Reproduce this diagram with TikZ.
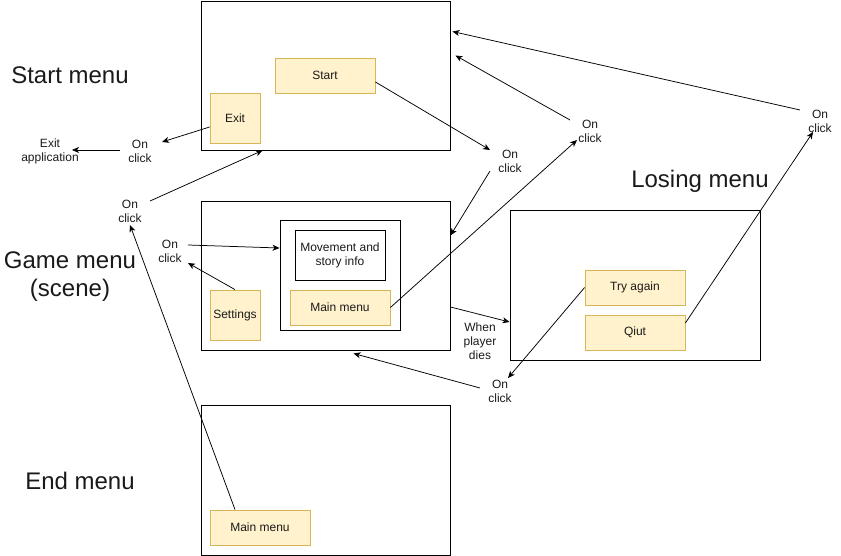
\documentclass[tikz,border=0pt]{standalone}
\usepackage{fontspec}
\setmainfont{Liberation Sans}
\usetikzlibrary{arrows.meta,calc}
\definecolor{btnfill}{HTML}{FFF2CC}
\definecolor{btnline}{HTML}{D6B656}
\definecolor{txt}{HTML}{1A1A1A}
\begin{document}
\begin{tikzpicture}[x=1pt,y=-1pt,
  screen/.style={draw, line width=0.9pt, fill=white, inner sep=0pt},
  btn/.style={draw=btnline, fill=btnfill, line width=0.8pt, inner sep=0pt, text=txt,
    font=\fontsize{12}{14}\selectfont, align=center},
  lbl/.style={font=\fontsize{12}{14}\selectfont, align=center, inner sep=1pt, text=txt},
  ttl/.style={font=\fontsize{24}{28}\selectfont, align=center, inner sep=0pt, text=txt},
  arr/.style={-{Stealth[length=7pt,width=6pt,inset=2pt]}, line width=0.75pt}]
\useasboundingbox (0,0) rectangle (841,556);

% screens
\node[screen, minimum width=249pt, minimum height=149pt] (ss) at (325.5,75.5) {};
\node[screen, minimum width=249pt, minimum height=149pt] (gs) at (325.5,275.5) {};
\node[screen, minimum width=250pt, minimum height=150pt] (ls) at (635,285) {};
\node[screen, minimum width=249pt, minimum height=150pt] (es) at (325.5,480) {};

% inner boxes
\node[screen, minimum width=120pt, minimum height=110pt] (inner) at (340,275) {};
\node[screen, minimum width=90pt, minimum height=50pt, font=\fontsize{12}{14}\selectfont, align=center, text=txt] (mov) at (340,255) {Movement and\\story info};

% buttons
\node[btn, minimum width=100pt, minimum height=35pt] (startb) at (325,75.5) {Start};
\node[btn, minimum width=50pt, minimum height=50pt] (exitb) at (235,118) {Exit};
\node[btn, minimum width=100pt, minimum height=35pt] (mmg) at (340,307.5) {Main menu};
\node[btn, minimum width=50pt, minimum height=50pt] (sett) at (235,315) {Settings};
\node[btn, minimum width=100pt, minimum height=35pt] (try) at (635,287.5) {Try again};
\node[btn, minimum width=100pt, minimum height=35pt] (quit) at (635,332.5) {Qiut};
\node[btn, minimum width=100pt, minimum height=35pt] (endmm) at (260,527.5) {Main menu};

% titles
\node[ttl] (t1) at (70,75) {Start menu};
\node[ttl] (t2) at (70,277) {Game menu\\(scene)};
\node[ttl] (t3) at (80,481) {End menu};
\node[ttl] (t4) at (700,181) {Losing menu};

% labels
\node[lbl] (exitapp) at (50,151) {Exit\\application};
\node[lbl] (oc1) at (140,151) {On\\click};
\node[lbl] (oc2) at (130,211) {On\\click};
\node[lbl] (oc3) at (170,251) {On\\click};
\node[lbl] (oc4) at (510,161) {On\\click};
\node[lbl] (oc5) at (590,131) {On\\click};
\node[lbl] (oc6) at (820,121) {On\\click};
\node[lbl] (oc7) at (500,391) {On\\click};
\node[lbl] (die) at (480,341) {When\\player\\dies};

% connectors
\draw[arr] ($(exitb.west)+(0,9)$) -- ($(oc1)+(22,-9)$);
\draw[arr] ($(oc1)+(-20,-1)$) -- ($(exitapp)+(22,-1)$);
\draw[arr] ($(oc2)+(20,-10)$) -- ($(ss.south west)+(62,0)$);
\draw[arr] ($(endmm.north)+(-25,0)$) -- ($(oc2)+(0,14)$);
\draw[arr] (sett.north) -- ($(oc3)+(18,12)$);
\draw[arr] ($(oc3)+(18,-6)$) -- ($(inner.west)+(0,-27)$);
\draw[arr] ($(startb.east)+(0,6.5)$) -- ($(oc4)+(-20,-11)$);
\draw[arr] ($(oc4)+(-20,10)$) -- ($(gs.east)+(0,-40)$);
\draw[arr] (mmg.east) -- ($(oc5)+(-13,9)$);
\draw[arr] ($(oc5)+(-20,-11)$) -- ($(ss.east)+(5,-20)$);
\draw[arr] ($(oc6)+(-20,-11)$) -- ($(ss.east)+(2,-44)$);
\draw[arr] ($(quit.east)+(0,-9.5)$) -- ($(oc6)+(-7,11)$);
\draw[arr] (try.west) -- ($(oc7)+(8,-13)$);
\draw[arr] ($(oc7)+(-20,-3)$) -- ($(gs.south)+(28,3)$);
\draw[arr] ($(gs.east)+(0,31.5)$) -- ($(ls.west)+(0,37)$);
\end{tikzpicture}
\end{document}
